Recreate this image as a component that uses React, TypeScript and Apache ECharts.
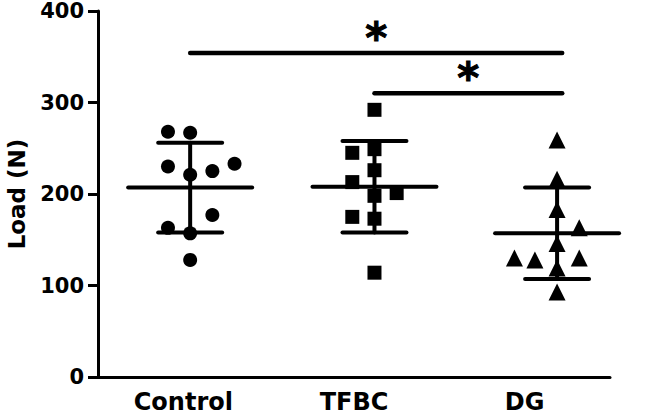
import React, { useEffect, useRef } from "react";
import * as echarts from "echarts";

const categories = ["Control", "TFBC", "DG"];
const yTickMin = 0;
const yTickMax = 400;
const yTickStep = 100;

const controlValues = [268, 267, 230, 221, 225, 233, 177, 163, 157, 128];
const controlX = [-0.09, 0.04, -0.09, 0.04, 0.17, 0.3, 0.17, -0.09, 0.04, 0.04];
const tfbcValues = [292, 245, 249, 226, 213, 198, 201, 175, 173, 114];
const tfbcX = [1.12, 0.99, 1.12, 1.12, 0.99, 1.12, 1.25, 0.99, 1.12, 1.12];
const dgValues = [259, 216, 183, 163, 146, 130, 128, 130, 119, 93];
const dgX = [2.19, 2.19, 2.19, 2.32, 2.19, 1.94, 2.06, 2.32, 2.19, 2.19];

const groupCenterX = [0.04, 1.12, 2.19];
const groupMeans = [207, 208, 157];
const groupSDs = [49, 50, 50];

const sigStartX = [0.04, 1.12];
const sigEndX = [2.22, 2.22];
const sigLevel = [354, 310];
const sigLabels = ["*", "*"];

const FONT = "DejaVu Sans";

export default function App() {
  const ref = useRef<HTMLDivElement>(null);
  useEffect(() => {
    if (!ref.current) return;
    const chart = echarts.init(ref.current, undefined, { renderer: "svg" });
    const pts = (xs: number[], vs: number[]) => vs.map((v, i) => [xs[i], v]);
    const barData = groupCenterX.map((x, i) => [x, groupMeans[i], groupSDs[i]]);
    const sigData = sigStartX.map((x, i) => [x, sigEndX[i], sigLevel[i]]);
    const scatterBase = {
      type: "scatter",
      xAxisIndex: 1,
      yAxisIndex: 0,
      itemStyle: { color: "#000", opacity: 1 },
      z: 3,
    };
    chart.setOption({
      animation: false,
      grid: { left: 98, right: 40, top: 11, bottom: 39, containLabel: false, outerBoundsMode: "none" },
      xAxis: [
        {
          type: "category",
          data: categories,
          boundaryGap: true,
          axisLine: { onZero: false, lineStyle: { color: "#000", width: 3 } },
          axisTick: { alignWithLabel: true, length: 8, lineStyle: { color: "#000", width: 3 } },
          axisLabel: {
            color: "#000",
            fontFamily: FONT,
            fontWeight: "bold",
            fontSize: 24,
            margin: 13,
          },
          splitLine: { show: false },
        },
        {
          type: "value",
          show: false,
          min: -0.5,
          max: 2.5,
          splitLine: { show: false },
        },
      ],
      yAxis: {
        type: "value",
        min: yTickMin,
        max: yTickMax,
        interval: yTickStep,
        name: "Load (N)",
        nameLocation: "middle",
        nameGap: 70,
        nameTextStyle: { color: "#000", fontFamily: FONT, fontWeight: "bold", fontSize: 23 },
        axisLine: { show: true, onZero: false, lineStyle: { color: "#000", width: 3 } },
        axisTick: { show: true, length: 10, lineStyle: { color: "#000", width: 3 } },
        axisLabel: { color: "#000", fontFamily: FONT, fontWeight: "bold", fontSize: 21, margin: 14 },
        splitLine: { show: false },
      },
      series: [
        {
          type: "custom",
          xAxisIndex: 1,
          yAxisIndex: 0,
          clip: false,
          z: 2,
          data: barData,
          renderItem: (params: any, api: any) => {
            const cx = api.value(0);
            const m = api.value(1);
            const sd = api.value(2);
            const pm = api.coord([cx, m]);
            const pt = api.coord([cx, m + sd]);
            const pb = api.coord([cx, m - sd]);
            const style = { stroke: "#000", lineWidth: 4, lineCap: "round" };
            return {
              type: "group",
              children: [
                { type: "line", shape: { x1: pm[0] - 62, y1: pm[1], x2: pm[0] + 62, y2: pm[1] }, style },
                { type: "line", shape: { x1: pt[0], y1: pt[1], x2: pb[0], y2: pb[1] }, style },
                { type: "line", shape: { x1: pt[0] - 32, y1: pt[1], x2: pt[0] + 32, y2: pt[1] }, style },
                { type: "line", shape: { x1: pb[0] - 32, y1: pb[1], x2: pb[0] + 32, y2: pb[1] }, style },
              ],
            };
          },
        },
        {
          type: "custom",
          xAxisIndex: 1,
          yAxisIndex: 0,
          clip: false,
          z: 2,
          data: sigData,
          renderItem: (params: any, api: any) => {
            const p1 = api.coord([api.value(0), api.value(2)]);
            const p2 = api.coord([api.value(1), api.value(2)]);
            const label = sigLabels[params.dataIndex];
            return {
              type: "group",
              children: [
                {
                  type: "line",
                  shape: { x1: p1[0], y1: p1[1], x2: p2[0], y2: p2[1] },
                  style: { stroke: "#000", lineWidth: 4.5, lineCap: "round" },
                },
                {
                  type: "text",
                  x: (p1[0] + p2[0]) / 2,
                  y: p1[1] + 6,
                  style: {
                    text: label,
                    fill: "#000",
                    stroke: "#000",
                    lineWidth: 1,
                    fontFamily: FONT,
                    fontWeight: "bold",
                    fontSize: 42,
                    align: "center",
                    verticalAlign: "bottom",
                  },
                },
              ],
            };
          },
        },
        { ...scatterBase, name: "Control", symbol: "circle", symbolSize: 14, data: pts(controlX, controlValues) },
        { ...scatterBase, name: "TFBC", symbol: "rect", symbolSize: 14, data: pts(tfbcX, tfbcValues) },
        { ...scatterBase, name: "DG", symbol: "triangle", symbolSize: 17, data: pts(dgX, dgValues) },
      ],
    });
    return () => chart.dispose();
  }, []);
  return (
    <div
      ref={ref}
      style={{ position: "absolute", left: 0, top: 0, width: 650, height: 416, background: "#fff" }}
    />
  );
}
